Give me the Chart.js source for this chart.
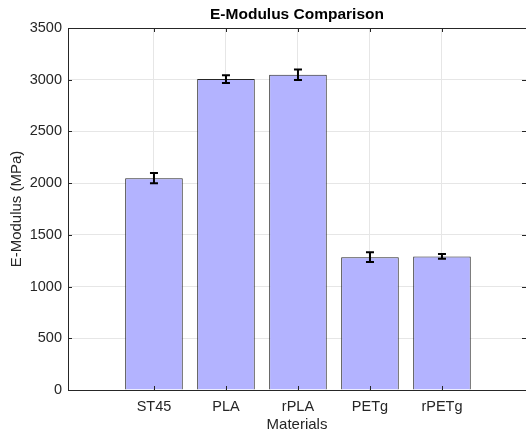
<!DOCTYPE html>
<html>
<head>
<meta charset="utf-8">
<title>E-Modulus Comparison</title>
<script src="https://cdn.jsdelivr.net/npm/chart.js@4.4.1/dist/chart.umd.min.js"></script>
<style>
  html, body { margin: 0; padding: 0; background: #fff; }
  canvas { display: block; }
</style>
</head>
<body>
<canvas id="modulusChart" width="526" height="436"></canvas>
<script>
// measured E-modulus per material (MPa), mean and standard deviation
const materials = ['ST45', 'PLA', 'rPLA', 'PETg', 'rPETg'];
const modulus = [2048, 3006, 3048, 1284, 1291];
const modulusStd = [50, 38, 50, 47, 23];
const yTicks = [0, 500, 1000, 1500, 2000, 2500, 3000, 3500];

const FONT = "'Liberation Sans', Arial, Helvetica, sans-serif";
const AXIS_COLOR = '#262626';

Chart.defaults.font.family = FONT;
Chart.defaults.font.size = 14.5;
Chart.defaults.color = AXIS_COLOR;

// error bars, plot title, top box line and inward tick marks
const axesExtras = {
  id: 'axesExtras',
  afterDatasetsDraw(chart) {
    const ctx = chart.ctx;
    const yScale = chart.scales.y;
    const meta = chart.getDatasetMeta(0);
    ctx.save();
    ctx.strokeStyle = '#000';
    ctx.lineWidth = 2;
    meta.data.forEach((bar, i) => {
      const top = yScale.getPixelForValue(modulus[i] + modulusStd[i]);
      const bottom = yScale.getPixelForValue(modulus[i] - modulusStd[i]);
      ctx.beginPath();
      ctx.moveTo(bar.x, top);
      ctx.lineTo(bar.x, bottom);
      ctx.moveTo(bar.x - 4, top);
      ctx.lineTo(bar.x + 4, top);
      ctx.moveTo(bar.x - 4, bottom);
      ctx.lineTo(bar.x + 4, bottom);
      ctx.stroke();
    });
    ctx.restore();
  },
  afterDraw(chart) {
    const ctx = chart.ctx;
    const area = chart.chartArea;
    const xScale = chart.scales.x;
    const yScale = chart.scales.y;
    ctx.save();
    ctx.strokeStyle = AXIS_COLOR;
    ctx.lineWidth = 1;
    ctx.beginPath();
    ctx.moveTo(area.left, Math.round(area.top) + 0.5);
    ctx.lineTo(area.right, Math.round(area.top) + 0.5);
    yScale.ticks.forEach(t => {
      const y = Math.round(yScale.getPixelForValue(t.value)) + 0.5;
      ctx.moveTo(area.left, y);
      ctx.lineTo(area.left + 4, y);
      ctx.moveTo(area.right, y);
      ctx.lineTo(area.right - 4, y);
    });
    xScale.ticks.forEach(t => {
      const x = Math.round(xScale.getPixelForValue(t.value)) + 0.5;
      ctx.moveTo(x, area.bottom);
      ctx.lineTo(x, area.bottom - 4);
      ctx.moveTo(x, area.top);
      ctx.lineTo(x, area.top + 4);
    });
    ctx.stroke();

    ctx.fillStyle = '#000';
    ctx.font = 'bold 15.5px ' + FONT;
    ctx.textAlign = 'center';
    ctx.textBaseline = 'middle';
    ctx.fillText('E-Modulus Comparison', (area.left + area.right) / 2, 15);
    ctx.restore();
  }
};

new Chart(document.getElementById('modulusChart'), {
  type: 'bar',
  data: {
    datasets: [{
      label: 'E-Modulus',
      data: modulus.map((v, i) => ({ x: i, y: v })),
      backgroundColor: '#b3b3ff',
      borderColor: '#262626',
      borderWidth: 1,
      barPercentage: 0.8,
      categoryPercentage: 1
    }]
  },
  options: {
    responsive: false,
    animation: false,
    layout: { padding: { top: 28, right: 0, left: 0, bottom: 0 } },
    plugins: {
      legend: { display: false },
      tooltip: { enabled: false },
      title: { display: false }
    },
    scales: {
      x: {
        type: 'linear',
        offset: false,
        min: -1.194,
        max: 5.167,
        afterBuildTicks: s => { s.ticks = materials.map((_, i) => ({ value: i })); },
        afterFit: s => { s.height = 46; },
        ticks: {
          padding: 8,
          autoSkip: false,
          maxRotation: 0,
          callback: v => materials[v]
        },
        grid: { color: '#e6e6e6', drawTicks: false, offset: false },
        border: { color: AXIS_COLOR, width: 1 },
        title: {
          display: true,
          text: 'Materials',
          font: { size: 15 },
          padding: { top: 0, bottom: 2 }
        }
      },
      y: {
        min: 0,
        max: 3500,
        afterBuildTicks: s => { s.ticks = yTicks.map(v => ({ value: v })); },
        afterFit: s => { s.width = 68; },
        ticks: { padding: 6, callback: v => String(v) },
        grid: { color: '#e6e6e6', drawTicks: false },
        border: { color: AXIS_COLOR, width: 1 },
        title: {
          display: true,
          text: 'E-Modulus (MPa)',
          font: { size: 15 },
          padding: { top: 8, bottom: 0 }
        }
      }
    }
  },
  plugins: [axesExtras]
});
</script>
</body>
</html>
